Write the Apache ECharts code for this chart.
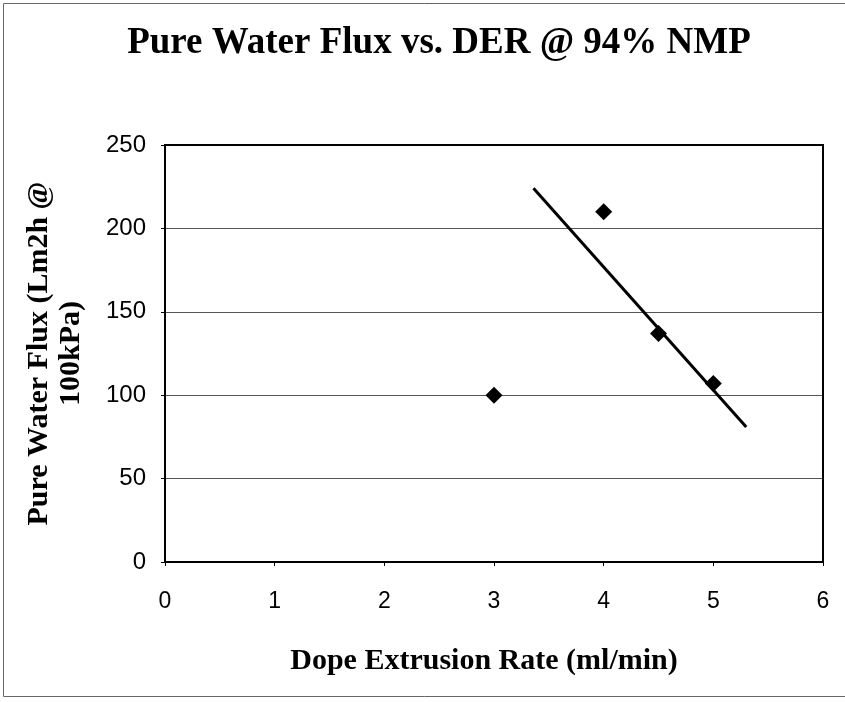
<!DOCTYPE html>
<html>
<head>
<meta charset="utf-8">
<style>
  html, body { margin: 0; padding: 0; background: #fff; }
  #chart { width: 845px; height: 702px; }
</style>
<script src="https://cdn.jsdelivr.net/npm/echarts@6/dist/echarts.min.js"></script>
</head>
<body>
<div id="chart"></div>
<script>
// Measured flux at each dope extrusion rate
const extrusionRate = [3, 4, 4.5, 5];
const waterFlux = [100, 210, 137, 107];
// Linear trend line endpoints
const trendRate = [3.36, 5.3];
const trendFlux = [224, 81];
// Axis ticks
const xTicks = [0, 1, 2, 3, 4, 5, 6];
const yTicks = [0, 50, 100, 150, 200, 250];

const chart = echarts.init(document.getElementById('chart'));
const serif = '"Liberation Serif", "Times New Roman", serif';
const sans = '"Liberation Sans", Arial, sans-serif';

const plot = { left: 165, right: 22, top: 145, bottom: 140 };

chart.setOption({
  animation: false,
  backgroundColor: '#ffffff',
  title: {
    text: 'Pure Water Flux vs. DER @ 94% NMP',
    left: 434,
    textAlign: 'center',
    top: 20,
    textStyle: { fontFamily: serif, fontWeight: 'bold', fontSize: 37, color: '#000' }
  },
  graphic: [{
    type: 'rect',
    shape: { x: 3.5, y: 3.5, width: 850, height: 693 },
    style: { fill: 'none', stroke: '#666', lineWidth: 1 },
    silent: true
  }, {
    // top and right edges of the plot frame
    type: 'rect',
    shape: { x: plot.left, y: plot.top, width: 845 - plot.right - plot.left, height: 702 - plot.bottom - plot.top },
    style: { fill: 'none', stroke: '#000', lineWidth: 2 },
    silent: true,
    z: 10
  }],
  grid: plot,
  xAxis: {
    type: 'value',
    min: xTicks[0],
    max: xTicks[xTicks.length - 1],
    interval: 1,
    name: 'Dope Extrusion Rate (ml/min)',
    nameLocation: 'middle',
    nameGap: 84,
    nameTextStyle: { fontFamily: serif, fontWeight: 'bold', fontSize: 30, color: '#000', padding: [0, 20, 0, 0] },
    axisLine: { show: true, lineStyle: { color: '#000', width: 2 } },
    axisTick: { show: true, length: 4, inside: false, lineStyle: { color: '#000' } },
    axisLabel: { fontFamily: sans, fontSize: 23, color: '#000', margin: 28 },
    splitLine: { show: false }
  },
  yAxis: {
    type: 'value',
    min: yTicks[0],
    max: yTicks[yTicks.length - 1],
    interval: 50,
    name: 'Pure Water Flux (Lm2h @\n100kPa)',
    nameLocation: 'middle',
    nameGap: 78,
    nameTextStyle: { fontFamily: serif, fontWeight: 'bold', fontSize: 30, color: '#000', lineHeight: 32, align: 'center' },
    axisLine: { show: true, lineStyle: { color: '#000', width: 2 } },
    axisTick: { show: true, length: 4, lineStyle: { color: '#000' } },
    axisLabel: { fontFamily: sans, fontSize: 24, color: '#000', margin: 19 },
    splitLine: { show: true, lineStyle: { color: '#555', width: 1.2 } }
  },
  series: [
    {
      type: 'line',
      data: trendRate.map((x, i) => [x, trendFlux[i]]),
      showSymbol: false,
      lineStyle: { color: '#000', width: 3 },
      z: 3
    },
    {
      type: 'scatter',
      data: extrusionRate.map((x, i) => [x, waterFlux[i]]),
      symbol: 'diamond',
      symbolSize: [17, 17],
      itemStyle: { color: '#000', opacity: 1 },
      z: 4
    }
  ]
});
</script>
</body>
</html>
